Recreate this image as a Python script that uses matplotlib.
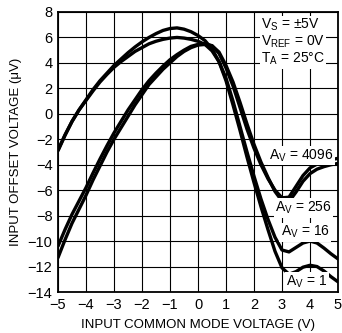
import numpy as np
import matplotlib
matplotlib.use("Agg")
import matplotlib.pyplot as plt

plt.rcParams['font.family'] = ['Liberation Sans', 'DejaVu Sans']
plt.rcParams['axes.unicode_minus'] = True

# common mode voltage (V), 0.25 V steps
vcm = np.linspace(-5, 5, 41)

# input offset voltage (uV) for each gain
vos_av1 = [-2.9, -1.7, -0.6, 0.3,
           1.1, 1.9, 2.6, 3.2,
           3.8, 4.3, 4.8, 5.25,
           5.65, 6.0, 6.3, 6.55,
           6.7, 6.75, 6.65, 6.45,
           6.15, 5.75, 5.1, 4.1,
           2.6, 0.7, -1.3, -3.4,
           -5.4, -7.3, -9.1, -10.8,
           -12.1, -12.6, -12.4, -12.05,
           -11.9, -12.0, -12.35, -12.8,
           -13.2]
vos_av16 = [-2.85, -1.65, -0.6, 0.3,
            1.05, 1.8, 2.5, 3.1,
            3.65, 4.1, 4.5, 4.9,
            5.2, 5.5, 5.7, 5.85,
            5.95, 6.0, 5.95, 5.85,
            5.7, 5.45, 4.95, 4.1,
            2.8, 1.0, -1.0, -3.0,
            -4.9, -6.7, -8.3, -9.7,
            -10.7, -10.85, -10.5, -10.15,
            -10.0, -10.15, -10.55, -11.0,
            -11.4]
vos_av4096 = [-10.4, -9.1, -7.9, -6.85,
              -5.8, -4.65, -3.55, -2.5,
              -1.5, -0.6, 0.3, 1.1,
              1.9, 2.6, 3.2, 3.75,
              4.25, 4.65, 5.0, 5.3,
              5.45, 5.5, 5.35, 4.75,
              3.6, 2.2, 0.5, -1.2,
              -2.7, -4.0, -5.1, -6.0,
              -6.6, -6.55, -5.7, -4.85,
              -4.25, -3.95, -3.75, -3.6,
              -3.5]
vos_av256 = [-11.3, -9.9, -8.6, -7.5,
             -6.4, -5.2, -4.1, -3.0,
             -2.0, -1.1, -0.2, 0.7,
             1.5, 2.3, 2.9, 3.5,
             4.0, 4.5, 4.9, 5.2,
             5.4, 5.45, 5.35, 4.85,
             3.8, 2.5, 0.9, -0.8,
             -2.4, -3.8, -5.0, -6.1,
             -6.85, -6.9, -6.15, -5.3,
             -4.7, -4.35, -4.15, -4.0,
             -3.9]

xticks = list(range(-5, 6))
yticks = list(range(-14, 9, 2))

fig = plt.figure(figsize=(3.42, 3.33), dpi=100)
ax = fig.add_axes([0.1696, 0.1231, 0.8187, 0.8409])

for y in (vos_av1, vos_av16, vos_av4096, vos_av256):
    ax.plot(vcm, y, color='black', lw=2.4, solid_capstyle='round', zorder=3)

ax.set_xlim(-5, 5)
ax.set_ylim(-14, 8)
ax.set_xticks(xticks)
ax.set_yticks(yticks)
ax.set_xticklabels([str(t).replace('-', '\u2212') for t in xticks])
ax.set_yticklabels([str(t).replace('-', '\u2212') for t in yticks])
ax.grid(True, color='black', lw=0.8)
ax.tick_params(length=0, labelsize=10.5, pad=4)
for s in ax.spines.values():
    s.set_linewidth(1.3)

ax.set_xlabel('INPUT COMMON MODE VOLTAGE (V)', fontsize=9.5, labelpad=5)
ax.set_ylabel('INPUT OFFSET VOLTAGE (\u03bcV)', fontsize=9.5, labelpad=4)

box = dict(facecolor='white', edgecolor='none', pad=1)
ax.text(2.25, 7.6,
        '$\\mathregular{V_S}$ = \u00b15V\n$\\mathregular{V_{REF}}$ = 0V\n$\\mathregular{T_A}$ = 25\u00b0C',
        ha='left', va='top', fontsize=10, linespacing=1.05, bbox=box, zorder=4)
ax.text(2.55, -3.3, '$\\mathregular{A_V}$ = 4096', ha='left', va='center',
        fontsize=10, bbox=box, zorder=4)
ax.text(2.75, -7.4, '$\\mathregular{A_V}$ = 256', ha='left', va='center',
        fontsize=10, bbox=box, zorder=4)
ax.text(2.95, -9.3, '$\\mathregular{A_V}$ = 16', ha='left', va='center',
        fontsize=10, bbox=box, zorder=4)
ax.text(3.15, -13.2, '$\\mathregular{A_V}$ = 1', ha='left', va='center',
        fontsize=10, bbox=box, zorder=4)

fig.savefig('out.png', dpi=100)
